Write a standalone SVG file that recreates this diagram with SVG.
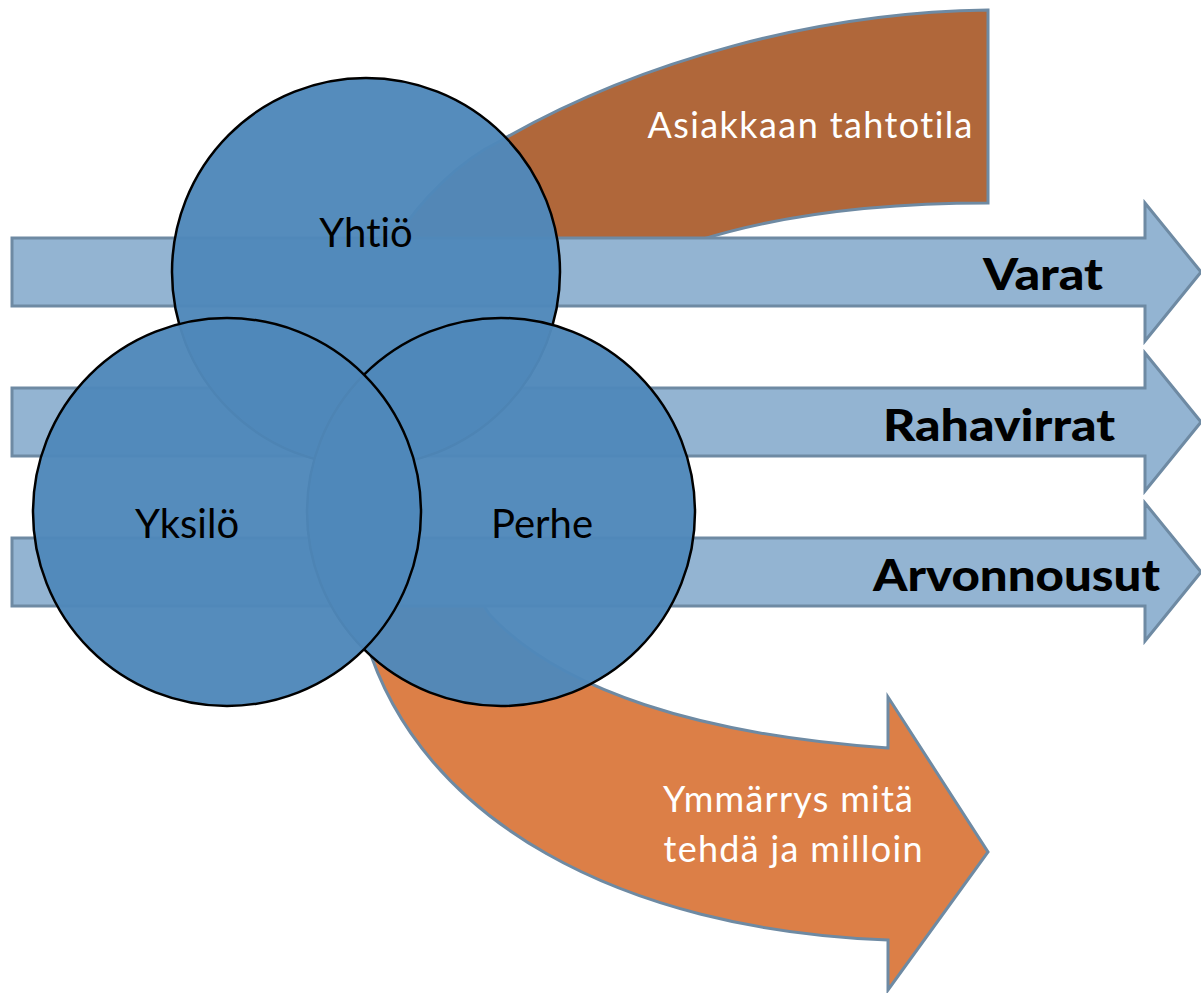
<svg xmlns="http://www.w3.org/2000/svg" width="1201" height="993" viewBox="0 0 1201 993">
<style>
.band{fill:#93B4D2;stroke:#6E8AA3;stroke-width:3;stroke-linejoin:miter}
.curv{stroke:#6E8AA3;stroke-width:3;stroke-linejoin:miter}
.circ{fill:#5088BA;fill-opacity:0.97;stroke:#000;stroke-width:2.5}
text{font-variant-ligatures:none}
.lbl{font-family:"Lato","Liberation Sans",sans-serif;font-weight:900;font-size:44px;fill:#000;text-anchor:end}
.ctxt{font-family:"Lato","Liberation Sans",sans-serif;font-size:40px;fill:#000;text-anchor:middle}
.wtxt{font-family:"Lato","Liberation Sans",sans-serif;font-size:36px;fill:#fff;text-anchor:middle}
</style>
<rect width="1201" height="993" fill="#fff"/>
<g id="connectors">
<g id="arrow-asiakkaan">
<path class="curv" fill="#B0673A" d="M988,10 L988,203 C880,203 780,215 700,240 L600,270 L390,270 L395,240 C420,200 460,160 500,141 C640,60 820,12 988,10 Z"/>
<text class="wtxt" x="810" y="138" textLength="325" lengthAdjust="spacing">Asiakkaan tahtotila</text>
</g>
<g id="arrow-ymmarrys">
<path class="curv" fill="#DC7F47" d="M366,640 C420,820 620,930 888,940 L888,990 L988,852 L888,697 L888,748 C700,735 560,690 490,615 L470,585 L360,585 Z"/>
<text class="wtxt" x="788" y="812" textLength="250" lengthAdjust="spacing">Ymmärrys mitä</text>
<text class="wtxt" x="793" y="862" textLength="259" lengthAdjust="spacing">tehdä ja milloin</text>
</g>
<g id="arrow-varat">
<path class="band" d="M12,238 L1145,238 L1145,203 L1201,272 L1145,341 L1145,306 L12,306 Z"/>
<text class="lbl" x="1103" y="290" textLength="120" lengthAdjust="spacingAndGlyphs">Varat</text>
</g>
<g id="arrow-rahavirrat">
<path class="band" d="M12,388 L1145,388 L1145,353 L1201,422 L1145,491 L1145,456 L12,456 Z"/>
<text class="lbl" x="1115" y="441" textLength="232" lengthAdjust="spacingAndGlyphs">Rahavirrat</text>
</g>
<g id="arrow-arvonnousut">
<path class="band" d="M12,538 L1145,538 L1145,503 L1201,572 L1145,641 L1145,606 L12,606 Z"/>
<text class="lbl" x="1160" y="591" textLength="287" lengthAdjust="spacingAndGlyphs">Arvonnousut</text>
</g>
</g>
<g id="yhtio">
<circle class="circ" cx="366" cy="272" r="194"/>
<text class="ctxt" x="366" y="247">Yhtiö</text>
</g>
<g id="perhe">
<circle class="circ" cx="501" cy="512" r="194"/>
<text class="ctxt" x="542" y="538">Perhe</text>
</g>
<g id="yksilo">
<circle class="circ" cx="227" cy="512" r="194"/>
<text class="ctxt" x="187" y="538">Yksilö</text>
</g>
</svg>
